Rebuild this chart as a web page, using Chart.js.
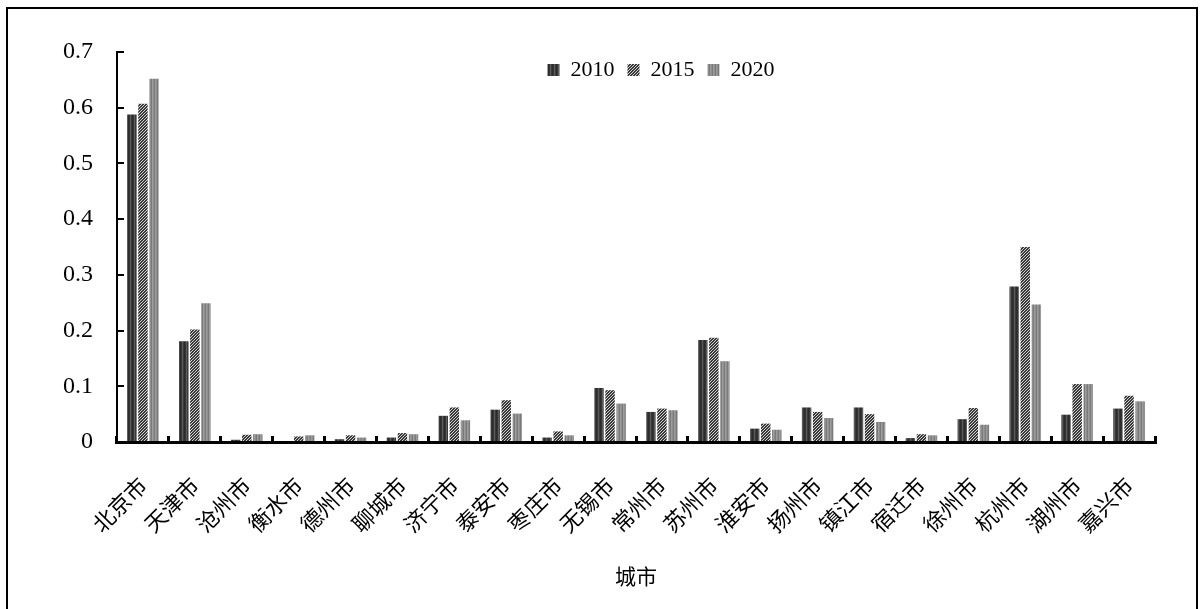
<!DOCTYPE html>
<html>
<head>
<meta charset="utf-8">
<title>城市</title>
<script src="https://cdn.jsdelivr.net/npm/chart.js"></script>
<style>
  html, body { margin: 0; padding: 0; background: #fff; }
  #wrap { position: relative; width: 1200px; height: 609px; overflow: hidden; }
  #frame { position: absolute; left: 6px; top: 7px; width: 1188px; height: 640px; border: 2px solid #000; pointer-events: none; }
</style>
</head>
<body>
<div id="wrap">
  <canvas id="cityChart" width="1200" height="609"></canvas>
  <div id="frame"></div>
</div>

<script>
// categories (cities)
const cities = ["北京市", "天津市", "沧州市", "衡水市", "德州市", "聊城市", "济宁市", "泰安市", "枣庄市", "无锡市",
                "常州市", "苏州市", "淮安市", "扬州市", "镇江市", "宿迁市", "徐州市", "杭州市", "湖州市", "嘉兴市"];

const years = ["2010", "2015", "2020"];

// values
const values2010 = [0.588, 0.181, 0.004, 0.000, 0.005, 0.008, 0.047, 0.058, 0.008, 0.097,
                    0.054, 0.183, 0.024, 0.062, 0.062, 0.007, 0.041, 0.279, 0.049, 0.060];
const values2015 = [0.607, 0.202, 0.013, 0.010, 0.012, 0.016, 0.062, 0.075, 0.019, 0.093,
                    0.060, 0.187, 0.033, 0.054, 0.050, 0.014, 0.061, 0.350, 0.104, 0.083];
const values2020 = [0.652, 0.249, 0.014, 0.012, 0.008, 0.014, 0.039, 0.051, 0.012, 0.069,
                    0.057, 0.145, 0.022, 0.043, 0.036, 0.012, 0.031, 0.247, 0.104, 0.073];

const yTickLabels = ["0", "0.1", "0.2", "0.3", "0.4", "0.5", "0.6", "0.7"];

const serif = "'Liberation Serif', 'Times New Roman', serif";
const cjk = "'Noto Sans CJK SC', 'Liberation Serif', serif";

const canvas = document.getElementById("cityChart");
const ctx = canvas.getContext("2d");

// small tiles used as bar fills (stripes / hatch like the original)
function tilePattern(w, h, paint) {
    const tile = document.createElement("canvas");
    tile.width = w;
    tile.height = h;
    paint(tile.getContext("2d"));
    return ctx.createPattern(tile, "repeat");
}

const fill2010 = tilePattern(4, 1, g => {
    const cols = ["#2c2c2c", "#353535", "#5c5c5c", "#3a3a3a"];
    cols.forEach((c, i) => { g.fillStyle = c; g.fillRect(i, 0, 1, 1); });
});
const fill2015 = tilePattern(3, 3, g => {
    g.fillStyle = "#3a3a3a";
    g.fillRect(0, 0, 3, 3);
    g.fillStyle = "#d0d0d0";
    for (let i = 0; i < 3; i++) g.fillRect(i, 2 - i, 1, 1);
});
const fill2020 = tilePattern(3, 1, g => {
    const cols = ["#8e8e8e", "#7a7a7a", "#9c9c9c"];
    cols.forEach((c, i) => { g.fillStyle = c; g.fillRect(i, 0, 1, 1); });
});

// put the legend inside the plot, like the original
const legendInside = {
    id: "legendInside",
    afterLayout(chart) {
        const lg = chart.legend;
        if (!lg) return;
        const cx = 661, half = 400;
        lg.left = cx - half;
        lg.right = cx + half;
        lg.width = half * 2;
        lg.top = 46;
        lg.height = 50;
        lg.bottom = lg.top + lg.height;
    }
};

new Chart(ctx, {
    type: "bar",
    data: {
        labels: cities,
        datasets: [
            { label: years[0], data: values2010, backgroundColor: fill2010 },
            { label: years[1], data: values2015, backgroundColor: fill2015 },
            { label: years[2], data: values2020, backgroundColor: fill2020 }
        ]
    },
    options: {
        responsive: false,
        animation: false,
        devicePixelRatio: 1,
        datasets: {
            bar: { barPercentage: 0.85, categoryPercentage: 0.64, borderWidth: 0 }
        },
        layout: {
            padding: { left: 20, right: 45, top: 51, bottom: 17 }
        },
        scales: {
            x: {
                grid: {
                    drawOnChartArea: false,
                    offset: true,
                    tickLength: -6,
                    lineWidth: 3,
                    color: "#000"
                },
                border: { color: "#000", width: 3 },
                ticks: {
                    color: "#000",
                    font: { family: cjk, size: 22 },
                    minRotation: 45,
                    maxRotation: 45,
                    autoSkip: false,
                    padding: 36
                },
                title: {
                    display: true,
                    text: "城市",
                    color: "#000",
                    font: { family: cjk, size: 21 },
                    padding: { top: 0, bottom: 3 }
                },
                afterFit: s => { s.height = 150; }
            },
            y: {
                min: 0,
                max: 0.7,
                ticks: {
                    stepSize: 0.1,
                    color: "#000",
                    font: { family: serif, size: 24 },
                    padding: 31,
                    callback: (v, i) => yTickLabels[i]
                },
                grid: {
                    drawOnChartArea: false,
                    tickLength: -7,
                    lineWidth: 2,
                    color: "#000"
                },
                border: { color: "#000", width: 2 },
                afterFit: s => { s.width = 97; }
            }
        },
        plugins: {
            legend: {
                position: "top",
                maxHeight: 1,
                labels: {
                    boxWidth: 12,
                    boxHeight: 12,
                    padding: 13,
                    color: "#000",
                    font: { family: serif, size: 22 }
                }
            },
            tooltip: { enabled: false }
        }
    },
    plugins: [legendInside]
});
</script>
</body>
</html>
